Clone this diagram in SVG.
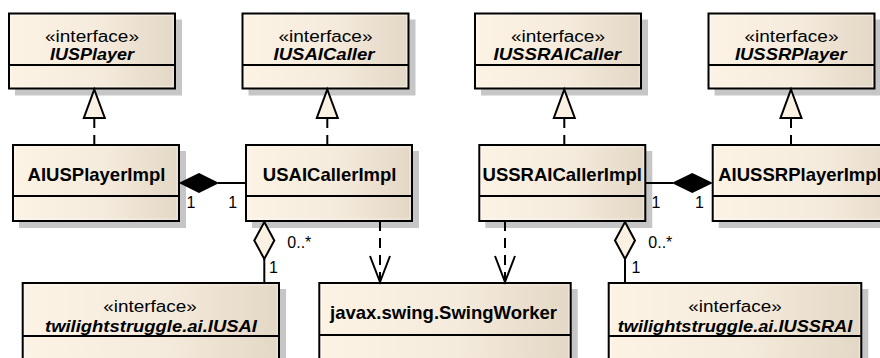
<svg xmlns="http://www.w3.org/2000/svg" width="880" height="358" viewBox="0 0 880 358">
  <defs>
    <linearGradient id="classFill" x1="0" y1="0" x2="1" y2="0">
      <stop offset="0" stop-color="#fcf3e5"/>
      <stop offset="0.55" stop-color="#f5ebdc"/>
      <stop offset="1" stop-color="#e3d7c5"/>
    </linearGradient>
    <style>
      .shadow { fill: #c6c6c6; }
      .box { fill: url(#classFill); stroke: #000; stroke-width: 2; }
      .inner { fill: none; stroke: #ffffff; stroke-opacity: 0.45; stroke-width: 1; }
      .div { stroke: #000; stroke-width: 2; }
      .stereo { font-family: "Liberation Sans", Arial, sans-serif; font-size: 16px; fill: #000; text-anchor: middle; }
      .iname { font-family: "Liberation Sans", Arial, sans-serif; font-size: 16.5px; font-weight: bold; font-style: italic; fill: #000; text-anchor: middle; }
      .cname { font-family: "Liberation Sans", Arial, sans-serif; font-size: 18.5px; font-weight: bold; fill: #000; text-anchor: middle; }
      .mult { font-family: "Liberation Sans", Arial, sans-serif; font-size: 16px; fill: #000; }
      .line { fill: none; stroke: #000; stroke-width: 2; }
      .dash { fill: none; stroke: #000; stroke-width: 2; stroke-dasharray: 10 7; }
      .hollow { fill: #fbf1e3; stroke: #000; stroke-width: 2; stroke-linejoin: miter; }
      .solid { fill: #000; stroke: #000; stroke-width: 1.5; }
    </style>
  </defs>

  <!-- interfaces, top row -->
  <g id="IUSPlayer">
    <rect class="shadow" x="15" y="19.5" width="167" height="76"/>
    <rect class="box" x="9" y="13.5" width="166" height="75"/>
    <rect class="inner" x="11" y="15.5" width="162" height="71"/>
    <line class="div" x1="9" y1="65" x2="175" y2="65"/>
    <text class="stereo" x="92" y="41.5" textLength="94" lengthAdjust="spacingAndGlyphs">«interface»</text>
    <text class="iname" x="92" y="60" textLength="84" lengthAdjust="spacingAndGlyphs">IUSPlayer</text>
  </g>

  <g id="IUSAICaller">
    <rect class="shadow" x="248.5" y="19.5" width="167" height="76"/>
    <rect class="box" x="242.5" y="13.5" width="166" height="75"/>
    <rect class="inner" x="244.5" y="15.5" width="162" height="71"/>
    <line class="div" x1="242.5" y1="65" x2="408.5" y2="65"/>
    <text class="stereo" x="325.5" y="41.5" textLength="94" lengthAdjust="spacingAndGlyphs">«interface»</text>
    <text class="iname" x="324" y="60" textLength="101" lengthAdjust="spacingAndGlyphs">IUSAICaller</text>
  </g>

  <g id="IUSSRAICaller">
    <rect class="shadow" x="481" y="19.5" width="167" height="76"/>
    <rect class="box" x="475" y="13.5" width="166" height="75"/>
    <rect class="inner" x="477" y="15.5" width="162" height="71"/>
    <line class="div" x1="475" y1="65" x2="641" y2="65"/>
    <text class="stereo" x="558" y="41.5" textLength="94" lengthAdjust="spacingAndGlyphs">«interface»</text>
    <text class="iname" x="557.3" y="60" textLength="127.7" lengthAdjust="spacingAndGlyphs">IUSSRAICaller</text>
  </g>

  <g id="IUSSRPlayer">
    <rect class="shadow" x="714.5" y="19.5" width="167" height="76"/>
    <rect class="box" x="708.5" y="13.5" width="166" height="75"/>
    <rect class="inner" x="710.5" y="15.5" width="162" height="71"/>
    <line class="div" x1="708.5" y1="65" x2="874.5" y2="65"/>
    <text class="stereo" x="791.5" y="41.5" textLength="94" lengthAdjust="spacingAndGlyphs">«interface»</text>
    <text class="iname" x="790.8" y="60" textLength="111.7" lengthAdjust="spacingAndGlyphs">IUSSRPlayer</text>
  </g>

  <!-- implementation classes, middle row -->
  <g id="AIUSPlayerImpl">
    <rect class="shadow" x="19" y="151" width="167" height="77"/>
    <rect class="box" x="13" y="145" width="166" height="76"/>
    <rect class="inner" x="15" y="147" width="162" height="72"/>
    <line class="div" x1="13" y1="196" x2="179" y2="196"/>
    <text class="cname" x="96.5" y="180.7">AIUSPlayerImpl</text>
  </g>

  <g id="USAICallerImpl">
    <rect class="shadow" x="252" y="151" width="167" height="77"/>
    <rect class="box" x="246" y="145" width="166" height="76"/>
    <rect class="inner" x="248" y="147" width="162" height="72"/>
    <line class="div" x1="246" y1="196" x2="412" y2="196"/>
    <text class="cname" x="329.7" y="180.7">USAICallerImpl</text>
  </g>

  <g id="USSRAICallerImpl">
    <rect class="shadow" x="485.3" y="151" width="167" height="77"/>
    <rect class="box" x="479.3" y="145" width="166" height="76"/>
    <rect class="inner" x="481.3" y="147" width="162" height="72"/>
    <line class="div" x1="479.3" y1="196" x2="645.3" y2="196"/>
    <text class="cname" x="562.2" y="180.7">USSRAICallerImpl</text>
  </g>

  <g id="AIUSSRPlayerImpl">
    <rect class="shadow" x="718.7" y="151" width="201" height="77"/>
    <rect class="box" x="712.7" y="145" width="200" height="76"/>
    <rect class="inner" x="714.7" y="147" width="196" height="72"/>
    <line class="div" x1="712.7" y1="196" x2="912.7" y2="196"/>
    <text class="cname" x="800" y="180.7">AIUSSRPlayerImpl</text>
  </g>

  <!-- bottom row -->
  <g id="IUSAI">
    <rect class="shadow" x="28.7" y="289" width="257.3" height="101"/>
    <rect class="box" x="22.7" y="283" width="256.3" height="100"/>
    <rect class="inner" x="24.7" y="285" width="252.3" height="96"/>
    <line class="div" x1="22.7" y1="336" x2="279" y2="336"/>
    <text class="stereo" x="150" y="311.5" textLength="93.5" lengthAdjust="spacingAndGlyphs">«interface»</text>
    <text class="iname" x="151" y="331.5" textLength="212" lengthAdjust="spacingAndGlyphs">twilightstruggle.ai.IUSAI</text>
  </g>

  <g id="SwingWorker">
    <rect class="shadow" x="325.3" y="289" width="252.4" height="101"/>
    <rect class="box" x="319.3" y="283" width="251.4" height="100"/>
    <rect class="inner" x="321.3" y="285" width="247.4" height="96"/>
    <line class="div" x1="319.3" y1="335" x2="570.7" y2="335"/>
    <text class="cname" x="443.5" y="319.3">javax.swing.SwingWorker</text>
  </g>

  <g id="IUSSRAI">
    <rect class="shadow" x="614.7" y="289" width="253.6" height="101"/>
    <rect class="box" x="608.7" y="283" width="252.6" height="100"/>
    <rect class="inner" x="610.7" y="285" width="248.6" height="96"/>
    <line class="div" x1="608.7" y1="336" x2="861.3" y2="336"/>
    <text class="stereo" x="735" y="311.5" textLength="93.5" lengthAdjust="spacingAndGlyphs">«interface»</text>
    <text class="iname" x="735" y="331.5" textLength="234.6" lengthAdjust="spacingAndGlyphs">twilightstruggle.ai.IUSSRAI</text>
  </g>

  <g id="connectors">
    <!-- realizations -->
    <line class="dash" x1="94.3" y1="145" x2="94.3" y2="118"/>
    <polygon class="hollow" points="94.3,89.5 104.8,118 83.8,118"/>
    <line class="dash" x1="327.3" y1="145" x2="327.3" y2="118"/>
    <polygon class="hollow" points="327.3,89.5 337.8,118 316.8,118"/>
    <line class="dash" x1="564.3" y1="145" x2="564.3" y2="118"/>
    <polygon class="hollow" points="564.3,89.5 574.8,118 553.8,118"/>
    <line class="dash" x1="791" y1="145" x2="791" y2="118"/>
    <polygon class="hollow" points="791,89.5 801.5,118 780.5,118"/>

    <!-- compositions -->
    <line class="line" x1="218" y1="183" x2="246" y2="183"/>
    <polygon class="solid" points="180.5,183 199,173.8 217.5,183 199,192.2"/>
    <text class="mult" x="186.5" y="208.3">1</text>
    <text class="mult" x="228.3" y="208.3">1</text>

    <line class="line" x1="645.3" y1="183" x2="673" y2="183"/>
    <polygon class="solid" points="673.5,183 692.3,173.8 711.2,183 692.3,192.2"/>
    <text class="mult" x="651.5" y="208.3">1</text>
    <text class="mult" x="695" y="208.3">1</text>

    <!-- aggregations -->
    <line class="line" x1="264.3" y1="259" x2="264.3" y2="283"/>
    <polygon class="hollow" points="264.3,222 274.3,240.5 264.3,259 254.3,240.5"/>
    <text class="mult" x="287.3" y="248.3">0..*</text>
    <text class="mult" x="269" y="272.7">1</text>

    <line class="line" x1="625" y1="259" x2="625" y2="283"/>
    <polygon class="hollow" points="625,222 635,240.5 625,259 615,240.5"/>
    <text class="mult" x="648.3" y="248.3">0..*</text>
    <text class="mult" x="631.6" y="272.7">1</text>

    <!-- dependencies -->
    <line class="dash" x1="380" y1="221" x2="380" y2="282"/>
    <polyline class="line" points="370,256 380,282 390,256"/>
    <line class="dash" x1="505" y1="221" x2="505" y2="282"/>
    <polyline class="line" points="495,256 505,282 515,256"/>
  </g>
</svg>
